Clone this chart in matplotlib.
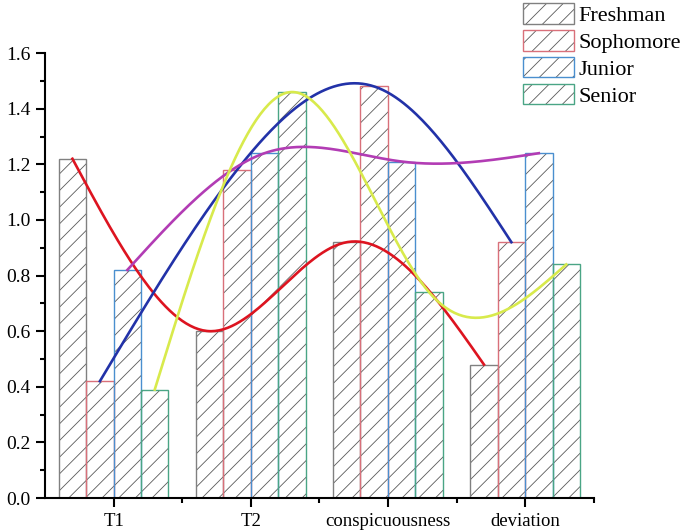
import numpy as np
import matplotlib.pyplot as plt
from matplotlib.ticker import MultipleLocator, FixedLocator

plt.rcParams['font.family'] = ['Liberation Serif', 'DejaVu Serif']
plt.rcParams['hatch.linewidth'] = 0.6

categories = ['T1', 'T2', 'conspicuousness', 'deviation']
groups = ['Freshman', 'Sophomore', 'Junior', 'Senior']
freshman = [1.22, 0.60, 0.92, 0.48]
sophomore = [0.42, 1.18, 1.48, 0.92]
junior = [0.82, 1.24, 1.21, 1.24]
senior = [0.39, 1.46, 0.74, 0.84]

edge_colors = ['#808080', '#d9707a', '#4a8fcf', '#4aa585']
line_colors = ['#dd1420', '#2232a8', '#b23cb4', '#d8ea4c']
hatch_gray = '#5a5a5a'


def natural_spline(x, y, n=200):
    # plain natural cubic spline through the points
    x = np.asarray(x, float)
    y = np.asarray(y, float)
    k = len(x)
    h = np.diff(x)
    A = np.zeros((k, k))
    b = np.zeros(k)
    A[0, 0] = 1
    A[-1, -1] = 1
    for i in range(1, k - 1):
        A[i, i - 1] = h[i - 1]
        A[i, i] = 2 * (h[i - 1] + h[i])
        A[i, i + 1] = h[i]
        b[i] = 6 * ((y[i + 1] - y[i]) / h[i] - (y[i] - y[i - 1]) / h[i - 1])
    M = np.linalg.solve(A, b)
    xs = np.linspace(x[0], x[-1], n)
    idx = np.clip(np.searchsorted(x, xs) - 1, 0, k - 2)
    x0, x1 = x[idx], x[idx + 1]
    hh = x1 - x0
    t0 = x1 - xs
    t1 = xs - x0
    ys = (M[idx] * t0 ** 3 + M[idx + 1] * t1 ** 3) / (6 * hh) \
        + (y[idx] / hh - M[idx] * hh / 6) * t0 \
        + (y[idx + 1] / hh - M[idx + 1] * hh / 6) * t1
    return xs, ys


fig = plt.figure(figsize=(6.85, 5.31), dpi=100)
ax = fig.add_axes([0.0657, 0.0621, 0.801, 0.8379])

pos = np.arange(len(categories))
width = 0.2
offsets = [-0.3, -0.1, 0.1, 0.3]
series = [freshman, sophomore, junior, senior]

handles = []
for vals, name, off, ec in zip(series, groups, offsets, edge_colors):
    # gray hatch first, coloured outline on top
    hb = ax.bar(pos + off, vals, width, facecolor='white', edgecolor=hatch_gray,
                linewidth=0, hatch='//', zorder=2)
    ob = ax.bar(pos + off, vals, width, fill=False, edgecolor=ec,
                linewidth=1.0, zorder=2.5)
    handles.append((hb.patches[0], ob.patches[0]))

for vals, off, lc in zip(series, offsets, line_colors):
    xs, ys = natural_spline(pos + off, vals)
    ax.plot(xs, ys, color=lc, linewidth=1.9, zorder=3)

ax.set_xlim(-0.5, 3.5)
ax.set_ylim(0, 1.6)
ax.set_xticks(pos)
ax.set_xticklabels(categories, fontsize=13.5)
ax.xaxis.set_minor_locator(FixedLocator([0.5, 1.5, 2.5, 3.5]))
ax.yaxis.set_major_locator(MultipleLocator(0.2))
ax.yaxis.set_minor_locator(MultipleLocator(0.1))
ax.set_yticklabels([f'{v:.1f}' for v in ax.get_yticks()], fontsize=14)

for s in ['top', 'right']:
    ax.spines[s].set_visible(False)
for s in ['left', 'bottom']:
    ax.spines[s].set_linewidth(1.5)
ax.tick_params(axis='both', which='major', direction='out', width=1.5, length=6.5, pad=4)
ax.tick_params(axis='both', which='minor', direction='out', width=1.5, length=3.5)

fig.legend(handles, groups, loc='upper left',
           bbox_to_anchor=(523 / 685, 1 - 3 / 531),
           frameon=False, fontsize=16, borderpad=0, borderaxespad=0,
           handlelength=2.3, handleheight=1.05, labelspacing=0.18,
           handletextpad=0.2)

fig.savefig('out.png', dpi=100)
